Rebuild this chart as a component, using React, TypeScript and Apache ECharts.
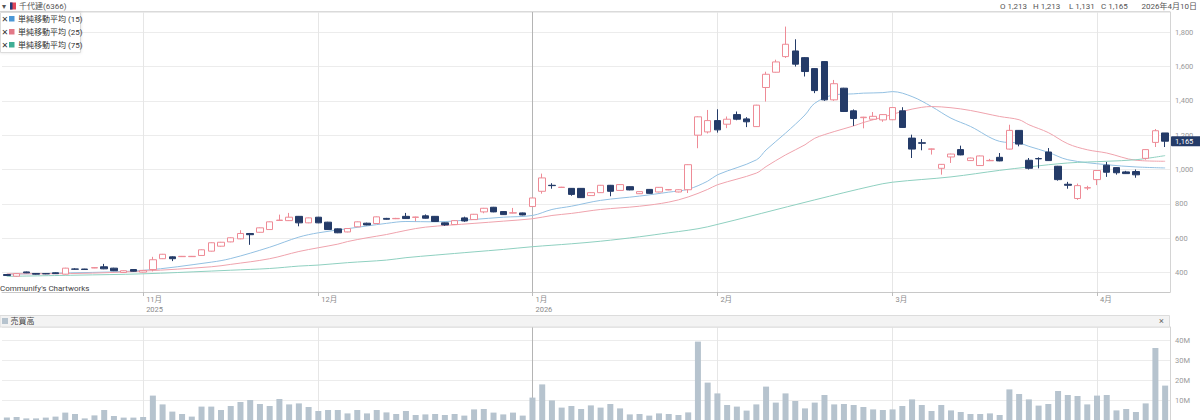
import React, { useEffect, useRef } from "react";
import * as echarts from "echarts";

// ---- trading days (categories) ----
const octDays = [14, 15, 16, 17, 20, 21, 22, 23, 24, 27, 28, 29, 30, 31];
const novDays = [4, 5, 6, 7, 10, 11, 12, 13, 14, 17, 18, 19, 20, 21, 25, 26, 27, 28];
const decDays = [1, 2, 3, 4, 5, 8, 9, 10, 11, 12, 15, 16, 17, 18, 19, 22, 23, 24, 25, 26, 29, 30];
const janDays = [5, 6, 7, 8, 9, 13, 14, 15, 16, 19, 20, 21, 22, 23, 26, 27, 28, 29, 30];
const febDays = [2, 3, 4, 5, 6, 9, 10, 12, 13, 16, 17, 18, 19, 20, 24, 25, 26, 27];
const marDays = [2, 3, 4, 5, 6, 9, 10, 11, 12, 13, 16, 17, 18, 19, 23, 24, 25, 26, 27, 30, 31];
const aprDays = [1, 2, 3, 6, 7, 8, 9, 10];

const monthBlocks: [number, number, number[]][] = [
  [2025, 10, octDays],
  [2025, 11, novDays],
  [2025, 12, decDays],
  [2026, 1, janDays],
  [2026, 2, febDays],
  [2026, 3, marDays],
  [2026, 4, aprDays],
];
const monthLabels = ["", "11月\n2025", "12月", "1月\n2026", "2月", "3月", "4月"];

// ---- OHLC ----
const opens = [
  388, 378, 403, 394, 393, 398, 390, 420, 420, 426, 433, 425, 400, 417,
  402, 417, 480, 491, 492, 492, 499, 524, 553, 578, 596, 627, 634, 650, 703, 702, 727, 689,
  722, 693, 654, 636, 666, 687, 685, 715, 713, 727, 721, 730, 727, 689, 679, 718, 708, 753, 780, 755, 746, 747,
  784, 873, 908, 895, 890, 890, 848, 865, 908, 878, 900, 859, 884, 869, 881, 869, 882, 1200, 1219,
  1285, 1264, 1320, 1295, 1250, 1478, 1567, 1658, 1691, 1652, 1588, 1629, 1406, 1474, 1342, 1302, 1293, 1289,
  1290, 1342, 1183, 1156, 1118, 1007, 1073, 1116, 1052, 1023, 1051, 1071, 1119, 1228, 1054, 1064, 1102, 1019, 914, 831, 892,
  941, 1025, 1011, 986, 988, 1065, 1158, 1213,
];
const closes = [
  382, 393, 398, 390, 392, 393, 425, 419, 417, 428, 421, 410, 410, 407,
  412, 474, 506, 480, 494, 494, 532, 573, 576, 602, 627, 620, 660, 695, 705, 722, 689, 718,
  689, 650, 631, 656, 695, 677, 724, 710, 715, 714, 723, 716, 697, 677, 702, 700, 739, 774, 753, 737, 748, 735,
  834, 951, 906, 897, 855, 836, 865, 908, 873, 912, 881, 871, 861, 896, 883, 882, 1028, 1307, 1285,
  1231, 1293, 1293, 1278, 1375, 1555, 1627, 1730, 1614, 1571, 1460, 1406, 1500, 1338, 1297, 1305, 1310, 1320,
  1361, 1245, 1119, 1153, 1120, 1030, 1090, 1085, 1067, 1079, 1053, 1050, 1228, 1148, 1007, 1062, 1052, 941, 908, 906, 894,
  994, 984, 981, 976, 969, 1116, 1226, 1165,
];
const lows = [
  379, 376, 396, 388, 390, 391, 388, 416, 415, 425, 419, 408, 398, 405,
  400, 406, 478, 466, 490, 490, 497, 522, 550, 576, 594, 561, 632, 648, 700, 700, 669, 687,
  687, 648, 629, 634, 664, 675, 683, 708, 711, 712, 698, 714, 695, 672, 677, 695, 706, 745, 751, 735, 744, 733,
  782, 859, 888, 893, 847, 834, 846, 863, 844, 876, 879, 857, 859, 867, 879, 867, 863, 1124, 1210,
  1215, 1241, 1287, 1247, 1248, 1396, 1565, 1650, 1600, 1542, 1445, 1400, 1400, 1335, 1254, 1240, 1290, 1278,
  1288, 1243, 1067, 1112, 1087, 970, 1038, 1083, 1050, 1021, 1049, 1048, 1117, 1135, 1000, 1007, 1050, 935, 888, 823, 880,
  909, 957, 970, 974, 952, 1057, 1131, 1131,
];
const highs = [
  390, 395, 405, 396, 395, 400, 427, 424, 421, 430, 450, 427, 412, 419,
  414, 491, 508, 494, 496, 496, 534, 575, 578, 604, 646, 630, 662, 697, 737, 747, 729, 720,
  724, 695, 656, 658, 697, 690, 726, 718, 718, 747, 725, 738, 729, 691, 704, 725, 741, 776, 782, 757, 776, 749,
  836, 976, 920, 899, 892, 892, 867, 910, 910, 914, 902, 873, 886, 898, 885, 884, 1030, 1310, 1347,
  1351, 1309, 1338, 1305, 1377, 1570, 1640, 1833, 1759, 1655, 1590, 1631, 1522, 1476, 1350, 1307, 1335, 1322,
  1363, 1363, 1203, 1177, 1122, 1032, 1092, 1139, 1069, 1081, 1062, 1096, 1261, 1230, 1067, 1071, 1125, 1021, 928, 918, 905,
  996, 1044, 1013, 992, 1000, 1118, 1236, 1213,
];

// ---- volume (millions of shares) ----
const volumesM = [
  1.2, 1.5, 0.8, 0.8, 1.2, 1.7, 3.7, 3.0, 0.8, 2.3, 5.0, 2.0, 1.2, 1.2,
  1.5, 12.2, 7.8, 4.2, 3.0, 1.7, 6.7, 6.7, 5.0, 7.0, 9.0, 10.0, 8.0, 7.0, 10.5, 7.8, 8.3, 6.5,
  4.5, 5.0, 5.0, 3.3, 5.0, 3.3, 5.0, 3.8, 3.0, 4.5, 2.5, 2.8, 3.0, 2.5, 3.0, 2.2, 5.3, 5.5, 3.7, 2.8, 3.7, 2.2,
  11.2, 17.8, 9.8, 6.2, 7.0, 5.5, 7.3, 6.2, 8.0, 5.8, 2.8, 3.0, 2.2, 3.3, 3.0, 2.5, 3.8, 39.2, 18.7,
  13.3, 7.5, 6.7, 4.7, 7.8, 16.7, 8.7, 13.3, 9.5, 5.8, 8.7, 12.5, 7.8, 8.0, 7.5, 6.5, 5.3, 5.0,
  5.3, 7.0, 10.3, 7.5, 4.5, 7.5, 4.8, 4.0, 3.0, 3.0, 3.3, 2.5, 15.3, 13.0, 10.3, 7.2, 8.0, 14.5, 12.5, 12.0, 7.8,
  12.2, 12.5, 4.8, 5.5, 4.0, 8.3, 36.0, 17.2,
];

// ---- moving averages: [candle index, value] ----
const ma15Points = [
  [0, 390], [7, 398], [14, 412], [21, 460], [23, 481], [27, 547], [30, 606], [32, 631], [35, 655], [39, 686],
  [41, 697], [44, 695], [48, 709], [51, 722], [54, 732], [56, 767], [58, 786], [61, 820], [65, 845], [68, 868],
  [70, 885], [72, 932], [73, 969], [77, 1056], [78, 1114], [80, 1212], [82, 1318], [83, 1386], [85, 1435],
  [87, 1441], [88, 1445], [90, 1448], [91, 1454], [93, 1425], [95, 1367], [97, 1299], [99, 1251], [102, 1164],
  [104, 1154], [105, 1135], [107, 1100], [109, 1057], [113, 1028], [116, 1015], [119, 1009],
];
const ma25Points = [
  [0, 392], [7, 394], [14, 408], [21, 433], [23, 447], [27, 480], [30, 522], [32, 544], [34, 565], [35, 580],
  [37, 602], [39, 621], [41, 645], [43, 664], [48, 686], [51, 699], [54, 713], [56, 732], [58, 744], [61, 767],
  [65, 786], [68, 810], [70, 840], [72, 884], [73, 911], [77, 979], [78, 1017], [80, 1085], [82, 1144],
  [83, 1182], [85, 1221], [87, 1254], [88, 1274], [90, 1305], [91, 1322], [93, 1352], [95, 1367], [97, 1360],
  [99, 1344], [102, 1309], [104, 1290], [105, 1261], [107, 1215], [109, 1150], [111, 1115], [113, 1096],
  [116, 1054], [119, 1048],
];
const ma75Points = [
  [0, 377], [7, 384], [14, 392], [21, 408], [23, 413], [27, 423], [30, 437], [32, 443], [35, 457], [39, 472],
  [41, 486], [44, 501], [48, 520], [51, 534], [54, 550], [58, 567], [61, 582], [65, 608], [68, 631], [70, 646],
  [72, 666], [83, 823], [89, 905], [91, 926], [97, 957], [102, 995], [105, 1015], [109, 1038], [113, 1048],
  [116, 1057], [119, 1081],
];

const lastClose = 1165;
const headerOHLC = ["O 1,213", "H 1,213", "L 1,131", "C 1,165"];
const headerDate = "2026年4月10日";
const stockName = "千代建(6366)";
const maLegend = [
  { name: "単純移動平均 (15)", swatch: "#4a97d6", line: "#93c0e2" },
  { name: "単純移動平均 (25)", swatch: "#e27887", line: "#efa3ad" },
  { name: "単純移動平均 (75)", swatch: "#3fae95", line: "#8fd0c0" },
];

const FONT = "Roboto, 'Noto Sans CJK JP', 'DejaVu Sans', sans-serif";
const BULL = "#ee8b96";
const BEAR = "#243b68";
const VOL = "#b6c3ce";

function buildOption() {
  const categories: string[] = [];
  const monthStartIdx: number[] = [];
  const labelByIdx: Record<number, string> = {};
  monthBlocks.forEach(([y, m, days], k) => {
    if (k > 0) {
      monthStartIdx.push(categories.length);
      labelByIdx[categories.length] = monthLabels[k];
    }
    days.forEach((d) => {
      categories.push(`${y}-${String(m).padStart(2, "0")}-${String(d).padStart(2, "0")}`);
    });
  });
  const isMonthStart = (i: number) => labelByIdx[i] !== undefined;

  const candleData = categories.map((_, i) => [opens[i], closes[i], lows[i], highs[i]]);

  const vLines = monthStartIdx.map((idx) => ({
    xAxis: categories[idx],
    lineStyle: { color: labelByIdx[idx].startsWith("1月") ? "#b4b4b4" : "#e6e6e6", width: 1, type: "solid" },
    label: { show: false },
  }));

  const txt = (text: string, x: number, y: number, extra: any = {}) => ({
    type: "text",
    z: 100,
    style: {
      text,
      x,
      y,
      fill: "#555",
      fontSize: 8,
      fontFamily: FONT,
      verticalAlign: "middle",
      align: "left",
      ...extra,
    },
  });

  const ohlcX = [1000, 1033, 1069, 1101];

  const graphics: any[] = [
    { type: "line", z: 50, shape: { x1: 0, y1: 11.5, x2: 1170, y2: 11.5 }, style: { stroke: "#dadada", lineWidth: 1 } },
    txt("▾", 2, 6, { fontSize: 8, fill: "#555" }),
    { type: "rect", z: 100, shape: { x: 10, y: 2.5, width: 6, height: 7 }, style: { fill: "#e0475a" } },
    { type: "rect", z: 101, shape: { x: 10, y: 2.5, width: 2.5, height: 7 }, style: { fill: "#1f3d7a" } },
    txt(stockName, 19, 6, { fill: "#555" }),
    ...headerOHLC.map((t, i) => txt(t, ohlcX[i], 6, { fill: "#555" })),
    txt(headerDate, 1197, 6, { align: "right", fill: "#555" }),
    // legend box
    {
      type: "rect",
      z: 100,
      shape: { x: 0.5, y: 12.5, width: 80, height: 40 },
      style: { fill: "#fff", stroke: "#dcdcdc", lineWidth: 1, shadowBlur: 3, shadowColor: "rgba(0,0,0,0.12)" },
    },
    ...maLegend.flatMap((m, k) => {
      const cy = 19 + k * 13;
      return [
        txt("✕", 1.5, cy, { fontSize: 8, fill: "#333", fontWeight: "bold" }),
        { type: "rect", z: 101, shape: { x: 9, y: cy - 3, width: 5.5, height: 5.5 }, style: { fill: m.swatch } },
        txt(m.name, 18, cy, { fill: "#333", fontSize: 8 }),
      ];
    }),
    txt("Communify's Chartworks", 0, 288, { fill: "#444", fontSize: 8 }),
    // volume panel header
    {
      type: "rect",
      z: 60,
      shape: { x: 0, y: 315.5, width: 1169.5, height: 11.5 },
      style: { fill: "#f3f3f3", stroke: "#dcdcdc", lineWidth: 1 },
    },
    { type: "rect", z: 100, shape: { x: 2, y: 318, width: 6, height: 6 }, style: { fill: VOL } },
    txt("売買高", 10.5, 321, { fill: "#444", fontSize: 8 }),
    txt("×", 1159, 321, { fill: "#666", fontSize: 9 }),
  ];

  return {
    animation: false,
    textStyle: { fontFamily: FONT },
    grid: [
      { left: 2, right: 30, top: 12, bottom: 128, outerBoundsMode: "none", containLabel: false },
      { left: 2, right: 30, top: 327, bottom: 0, outerBoundsMode: "none", containLabel: false },
    ],
    xAxis: [
      {
        type: "category",
        gridIndex: 0,
        data: categories,
        boundaryGap: true,
        axisLine: { show: true, lineStyle: { color: "#c8c8c8" } },
        axisTick: {
          show: true,
          alignWithLabel: true,
          interval: (i: number) => isMonthStart(i),
          length: 4,
          lineStyle: { color: "#bdbdbd" },
        },
        axisLabel: {
          show: true,
          interval: (i: number) => isMonthStart(i),
          formatter: (_v: string, i: number) => labelByIdx[i] || "",
          align: "left",
          padding: [0, 0, 0, 3],
          color: "#8a8a8a",
          fontSize: 7.5,
          lineHeight: 10,
          margin: 2,
          fontFamily: FONT,
        },
        splitLine: { show: false },
      },
      {
        type: "category",
        gridIndex: 1,
        data: categories,
        boundaryGap: true,
        axisLine: { show: false },
        axisTick: { show: false },
        axisLabel: { show: false },
        splitLine: { show: false },
      },
    ],
    yAxis: [
      {
        type: "value",
        gridIndex: 0,
        position: "right",
        min: 286,
        max: 1918,
        splitNumber: 8,
        axisLine: { show: true, lineStyle: { color: "#d4d4d4" } },
        axisTick: { show: false },
        axisLabel: {
          color: "#9a9a9a",
          fontSize: 7.5,
          margin: 5,
          showMinLabel: false,
          showMaxLabel: false,
          fontFamily: FONT,
          formatter: (v: number) => (v % 200 === 0 ? v.toLocaleString("en-US") : ""),
        },
        splitLine: { show: true, lineStyle: { color: "#ececec" } },
      },
      {
        type: "value",
        gridIndex: 1,
        position: "right",
        min: 0,
        max: 46.5,
        splitNumber: 5,
        axisLine: { show: true, lineStyle: { color: "#d4d4d4" } },
        axisTick: { show: false },
        axisLabel: {
          color: "#9a9a9a",
          fontSize: 7.5,
          margin: 5,
          showMinLabel: false,
          showMaxLabel: false,
          fontFamily: FONT,
          formatter: (v: number) => (v > 0 && v % 10 === 0 ? `${v}M` : ""),
        },
        splitLine: { show: true, lineStyle: { color: "#ececec" } },
      },
    ],
    graphic: { elements: graphics },
    series: [
      {
        type: "candlestick",
        xAxisIndex: 0,
        yAxisIndex: 0,
        data: candleData,
        barWidth: 7,
        clip: false,
        itemStyle: {
          color: "#ffffff",
          color0: BEAR,
          borderColor: BULL,
          borderColor0: BEAR,
          borderWidth: 1,
        },
        markLine: {
          silent: true,
          symbol: ["none", "none"],
          z: 1,
          animation: false,
          data: [
            ...vLines,
            {
              yAxis: lastClose,
              lineStyle: { color: "rgba(0,0,0,0)", width: 1 },
              label: {
                show: true,
                position: "end",
                distance: 1,
                formatter: lastClose.toLocaleString("en-US"),
                backgroundColor: BEAR,
                color: "#ffffff",
                fontSize: 7.5,
                lineHeight: 8,
                fontFamily: FONT,
                padding: [1, 8, 1, 4],
                borderRadius: 1,
              },
            },
          ],
        },
        z: 3,
      },
      ...[ma15Points, ma25Points, ma75Points].map((pts, k) => ({
        type: "line",
        xAxisIndex: 0,
        yAxisIndex: 0,
        data: pts,
        showSymbol: false,
        symbol: "none",
        smooth: 0.35,
        lineStyle: { color: maLegend[k].line, width: 1 },
        z: 2,
        silent: true,
      })),
      {
        type: "bar",
        xAxisIndex: 1,
        yAxisIndex: 1,
        data: volumesM,
        barWidth: 6,
        itemStyle: { color: VOL },
        markLine: {
          silent: true,
          symbol: ["none", "none"],
          z: 1,
          animation: false,
          data: vLines,
        },
      },
    ],
  };
}

export default function App() {
  const ref = useRef<HTMLDivElement>(null);
  useEffect(() => {
    if (!ref.current) return;
    const chart = echarts.init(ref.current, null, { renderer: "svg" });
    chart.setOption(buildOption() as any);
    return () => chart.dispose();
  }, []);
  return (
    <div
      ref={ref}
      style={{ position: "absolute", left: 0, top: 0, width: 1200, height: 420, background: "#fff" }}
    />
  );
}
